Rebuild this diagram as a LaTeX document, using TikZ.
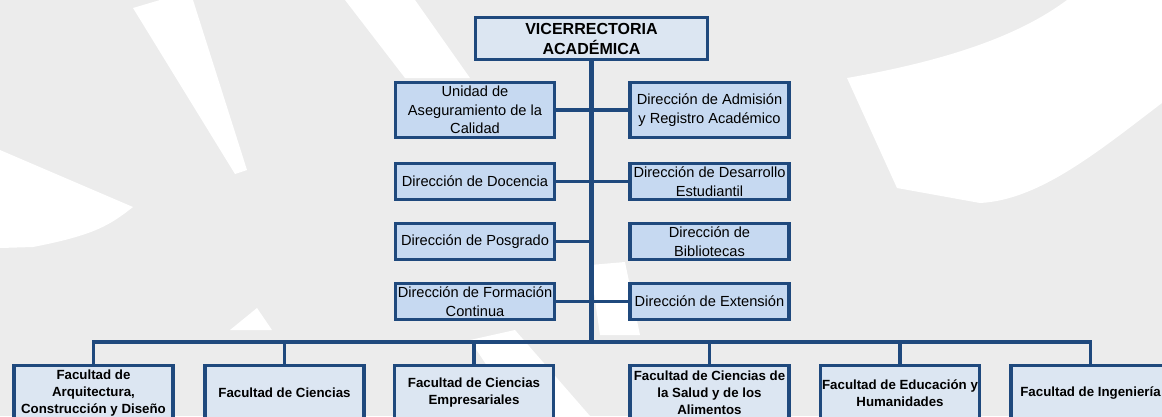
\documentclass[tikz,border=0pt]{standalone}
\usepackage{fontspec}
\setmainfont{Liberation Sans}

\definecolor{orgline}{RGB}{31,73,125}
\definecolor{orgfill}{RGB}{198,217,241}
\definecolor{orgpale}{RGB}{220,230,242}
\definecolor{bggray}{RGB}{236,236,236}

\begin{document}
\begin{tikzpicture}[x=0.025cm, y=-0.025cm,
    topbox/.style={draw=orgline, line width=2.6pt, fill=orgpale, rectangle, align=center, inner sep=0pt, minimum width=5.8cm, minimum height=1.05cm, font=\bfseries\fontsize{11.4}{14.2}\selectfont},
    dirbox/.style={draw=orgline, line width=2.6pt, fill=orgfill, rectangle, align=center, inner sep=0pt, minimum width=3.98cm, minimum height=0.9cm, font=\fontsize{10.4}{13.2}\selectfont},
    facbox/.style={draw=orgline, line width=2.6pt, fill=orgpale, rectangle, align=center, inner sep=0pt, minimum width=3.98cm, minimum height=1.38cm, font=\bfseries\fontsize{9.45}{12.1}\selectfont},
    linkline/.style={draw=orgline, line width=2.5pt}]
				\useasboundingbox (0,0) rectangle (1162,416);
				\clip (0,0) rectangle (1162,416);
				% background
				\fill[bggray] (0,0) rectangle (1162,416);
				\fill[white] (133,8) -- (160,0) -- (193,0) -- (247,170) -- (235,174) -- cycle;
				\fill[white] (0,150) -- (133,207) .. controls (110,225) and (95,235) .. (33,247) -- (0,248) -- cycle;
				\fill[white] (345,0) -- (415,0) -- (470,78) -- (405,78) -- cycle;
				\fill[white] (847,78) .. controls (950,60) and (1020,35) .. (1067,0) -- (1162,0) -- (1162,103) .. controls (1100,150) and (1040,200) .. (980,203) -- (897,188) -- cycle;
				\fill[white] (470,340) -- (515,330) -- (590,416) -- (520,416) -- cycle;
				\fill[white] (590,265) -- (625,262) -- (640,335) -- (600,335) -- cycle;
				\fill[white] (230,330) -- (257,308) -- (272,330) -- cycle;

				\node[topbox] (VRA) at (591.5, 38.5) {VICERRECTORIA\\ACADÉMICA};

				\node[dirbox, minimum height=1.38cm] (U1) at (475, 110) {Unidad de\\Aseguramiento de la\\Calidad};
				\node[dirbox, minimum height=1.38cm] (D1) at (709.5, 110) {Dirección de Admisión\\y Registro Académico};
				\node[dirbox] (U2) at (475, 181.5) {Dirección de Docencia};
				\node[dirbox] (D2) at (709.5, 181.5) {Dirección de Desarrollo\\Estudiantil};
				\node[dirbox] (U3) at (475, 241.5) {Dirección de Posgrado};
				\node[dirbox] (D3) at (709.5, 241.5) {Dirección de\\Bibliotecas};
				\node[dirbox] (U4) at (475, 301.5) {Dirección de Formación\\Continua};
				\node[dirbox] (D4) at (709.5, 301.5) {Dirección de Extensión};

				\node[facbox] (F1) at (93.5, 393) {Facultad de\\Arquitectura,\\Construcción y Diseño};
				\node[facbox] (F2) at (284.5, 393) {Facultad de Ciencias};
				\node[facbox] (F3) at (474, 393) {Facultad de Ciencias\\Empresariales};
				\node[facbox] (F4) at (709.5, 393) {Facultad de Ciencias de\\la Salud y de los\\Alimentos};
				\node[facbox] (F5) at (900, 393) {Facultad de Educación y\\Humanidades};
				\node[facbox] (F6) at (1090.5, 393) {Facultad de Ingeniería};

				% connectors
				\coordinate (BUS) at (591.5, 342);
				\draw[linkline, line width=3pt] (VRA.south) -- (BUS);
				\foreach \n in {U1,U2,U3,U4}
					\draw[linkline] (\n.east) -- (\n.east -| VRA.south);
				\foreach \n in {D1,D2,D4}
					\draw[linkline] (\n.west) -- (\n.west -| VRA.south);
				\draw[linkline] (F1.north) |- (F6.north |- BUS) -- (F6.north);
				\foreach \f in {F2,F3,F4,F5}
					\draw[linkline] (\f.north |- BUS) -- (\f.north);
			\end{tikzpicture}
\end{document}
